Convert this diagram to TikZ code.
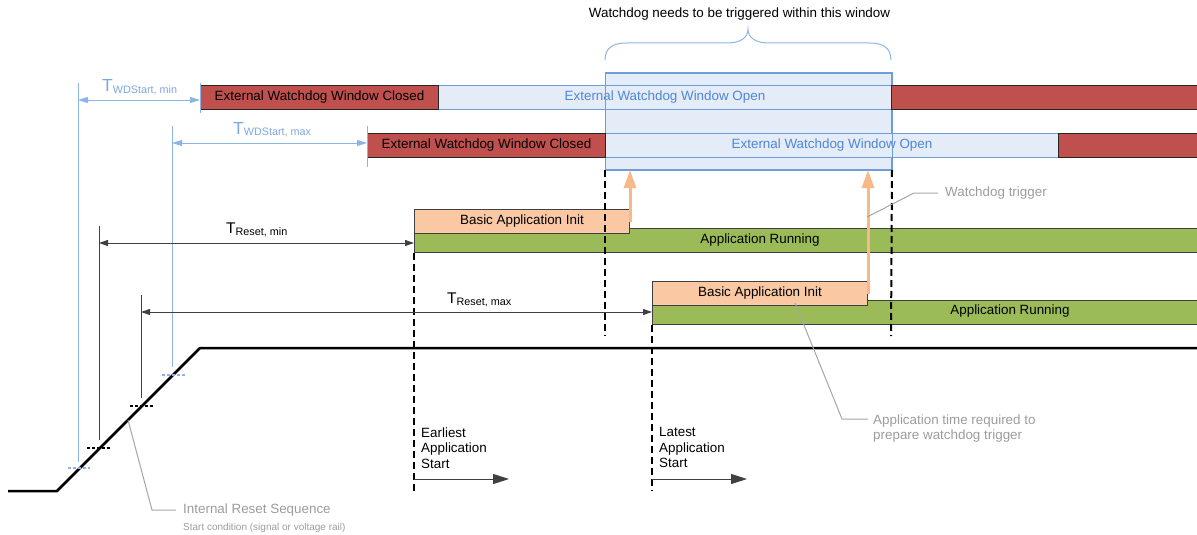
\documentclass[tikz,border=0pt]{standalone}
\usepackage{fontspec}
\setmainfont{Liberation Sans}
\usetikzlibrary{arrows.meta}
\definecolor{wdred}{HTML}{C0504D}
\definecolor{wdopen}{HTML}{E4ECF7}
\definecolor{wdborder}{HTML}{6F9CDB}
\definecolor{wdtext}{HTML}{4F86D6}
\definecolor{dimblue}{HTML}{8DB4E6}
\definecolor{labblue}{HTML}{7EA6E0}
\definecolor{appgreen}{HTML}{9BBB59}
\definecolor{initorange}{HTML}{FAC8A2}
\definecolor{arroworange}{HTML}{F9B887}
\definecolor{callgray}{HTML}{A6A6A6}
\definecolor{calltext}{HTML}{9C9C9C}
\definecolor{darkline}{HTML}{404040}
\newcommand{\wdfs}[1]{\fontsize{#1}{#1}\selectfont}
\begin{document}
\begin{tikzpicture}[x=1pt,y=-1pt,
  txt/.style={font=\fontsize{13.4}{15.5}\selectfont, inner sep=0pt},
  barbase/.style={txt, anchor=north west, minimum height=24pt, line width=1pt},
  closedbar/.style={barbase, fill=wdred, draw=black!85},
  openbar/.style={barbase, fill=wdopen, draw=wdborder, text=wdtext},
  runbar/.style={barbase, fill=appgreen, draw=darkline},
  initbar/.style={barbase, fill=initorange, draw=darkline},
  dashv/.style={line width=2pt, dash pattern=on 7pt off 4pt, black},
  tickblue/.style={dimblue, line width=1.3pt, dash pattern=on 3pt off 2pt},
  tickblack/.style={black, line width=1.5pt, dash pattern=on 3pt off 2pt},
  dimline/.style={dimblue, line width=1pt},
  dimarrow/.style={dimblue, line width=1pt, {Triangle[length=10pt,width=6pt]}-{Triangle[length=10pt,width=6pt]}},
  resetarrow/.style={darkline, line width=1pt, {Triangle[length=9pt,width=6pt]}-{Triangle[length=9pt,width=6pt]}},
  startarrow/.style={darkline, line width=1pt, -{Triangle[length=16pt,width=10pt]}},
  orarrow/.style={arroworange, line width=3pt, -{Triangle[length=18pt,width=12pt]}},
  callout/.style={callgray, line width=1pt},
  calltxt/.style={txt, text=calltext},
  ramp/.style={black, line width=2.5pt},
]
\useasboundingbox (0,0) rectangle (1197,535);

% watchdog window
\node[anchor=north west, minimum width=286, minimum height=96, inner sep=0pt, fill=wdopen, draw=wdborder, line width=1pt] (win) at (605,73) {};
\node[txt, anchor=base] (wintext) at (739.5,17.5) {Watchdog needs to be triggered within this window};
\coordinate (bL) at (605,60);
\coordinate (bR) at (891,60);
\coordinate (bT) at (748,29);
\draw[dimline] (bL) .. controls (605,48) and (613,43) .. (626,43) -- (727,43)
  .. controls (740,43) and (748,38) .. (bT)
  .. controls (748,38) and (756,43) .. (769,43) -- (870,43)
  .. controls (883,43) and (891,48) .. (bR);

% watchdog rows
\node[openbar, minimum width=453] (o1) at (438,85) {External Watchdog Window Open};
\node[openbar, minimum width=453] (o2) at (605,133) {External Watchdog Window Open};
\draw[wdborder, line width=1pt] (win.north west) rectangle (win.south east);
\node[closedbar, minimum width=238] (c1) at (200,85) {External Watchdog Window Closed};
\node[closedbar, minimum width=312] (c1r) at (891,85) {};
\node[closedbar, minimum width=238] (c2) at (367,133) {External Watchdog Window Closed};
\node[closedbar, minimum width=145] (c2r) at (1058,133) {};

% application rows
\node[runbar, minimum width=790] (g1) at (414,228) {};
\node[txt] (g1t) at (760,240) {Application Running};
\node[initbar, minimum width=215] (i1) at (414,209) {Basic Application Init};
\node[runbar, minimum width=552] (g2) at (652,300) {};
\node[txt] (g2t) at (1010,311.5) {Application Running};
\node[initbar, minimum width=215] (i2) at (652,281) {Basic Application Init};

% orange trigger arrows
\draw[orarrow] (i1.east) -- (i1.east |- win.south);
\draw[orarrow] (i2.east) -- (i2.east |- win.south);

% dashed verticals
\coordinate (wL) at (605,336);
\coordinate (wR) at (891,336);
\coordinate (eBot) at (414,491);
\coordinate (lBot) at (652,491);
\draw[dashv] (win.south west) -- (wL);
\draw[dashv] (win.south east) -- (wR);
\draw[dashv] (g1.south west) -- (eBot);
\draw[dashv] (g2.south west) -- (lBot);

% ramp
\coordinate (r0) at (8,491);
\coordinate (r1) at (57,491);
\coordinate (r2) at (200,348);
\coordinate (r3) at (1200,348);
\draw[ramp] (r0) -- (r1) -- (r2) -- (r3);

% threshold verticals and ticks
\draw[dimline] (78,83) -- (78,462);
\draw[tickblue] (68,468) -- (90,468);
\draw[dimline] (172,126) -- (172,367);
\draw[tickblue] (162,375) -- (185,375);
\draw[darkline, line width=1pt] (99,226) -- (99,440);
\draw[tickblack] (87,448) -- (111,448);
\draw[darkline, line width=1pt] (141,295) -- (141,398);
\draw[tickblack] (130,406) -- (154,406);

% WDStart dimensions
\draw[dimline] (200,83) -- (200,113);
\draw[dimarrow] (78,100) -- (200,100);
\node[anchor=base west, inner sep=0pt, text=labblue] (twmin) at (102,92) {{\wdfs{17.5}T}{\wdfs{10.8}\raisebox{-1.5pt}{WDStart, min}}};
\draw[dimline] (367,126) -- (367,167);
\draw[dimarrow] (172,143) -- (367,143);
\node[anchor=base west, inner sep=0pt, text=labblue] (twmax) at (233,134) {{\wdfs{17.5}T}{\wdfs{10.8}\raisebox{-1.5pt}{WDStart, max}}};

% reset dimensions
\draw[resetarrow] (99,243) -- (414,243);
\node[anchor=base west, inner sep=0pt] (trmin) at (226,233) {{\wdfs{15.5}T}{\wdfs{10.8}\raisebox{-2pt}{Reset, min}}};
\draw[resetarrow] (141,312) -- (652,312);
\node[anchor=base west, inner sep=0pt] (trmax) at (447,303) {{\wdfs{15.5}T}{\wdfs{10.8}\raisebox{-2pt}{Reset, max}}};

% application start
\coordinate (eS) at (414,479);
\coordinate (eE) at (509,479);
\coordinate (lS) at (652,479);
\coordinate (lE) at (747,479);
\draw[startarrow] (eS) -- (eE);
\draw[startarrow] (lS) -- (lE);
\node[txt, anchor=north west, align=left] (etxt) at (421,427.4) {Earliest\\Application\\Start};
\node[txt, anchor=north west, align=left] (ltxt) at (659,427.4) {Latest\\Application\\Start};

% callouts
\node[calltxt, anchor=west, inner xsep=7pt] (wdt) at (938,193) {Watchdog trigger};
\draw[callout] (867,217) -- (914,193) -- (wdt.west);
\node[calltxt, anchor=north west, align=left] (apt) at (873,414.4) {Application time required to\\prepare watchdog trigger};
\draw[callout] (795,303) -- (842,419) -- (868,419);
\node[calltxt, anchor=west, inner xsep=7pt] (irs) at (176,510) {Internal Reset Sequence};
\draw[callout] (128,420) -- (152,510) -- (irs.west);
\node[anchor=west, inner sep=0pt, text=calltext, font=\wdfs{10}] (scond) at (183,528) {Start condition (signal or voltage rail)};
\end{tikzpicture}
\end{document}
